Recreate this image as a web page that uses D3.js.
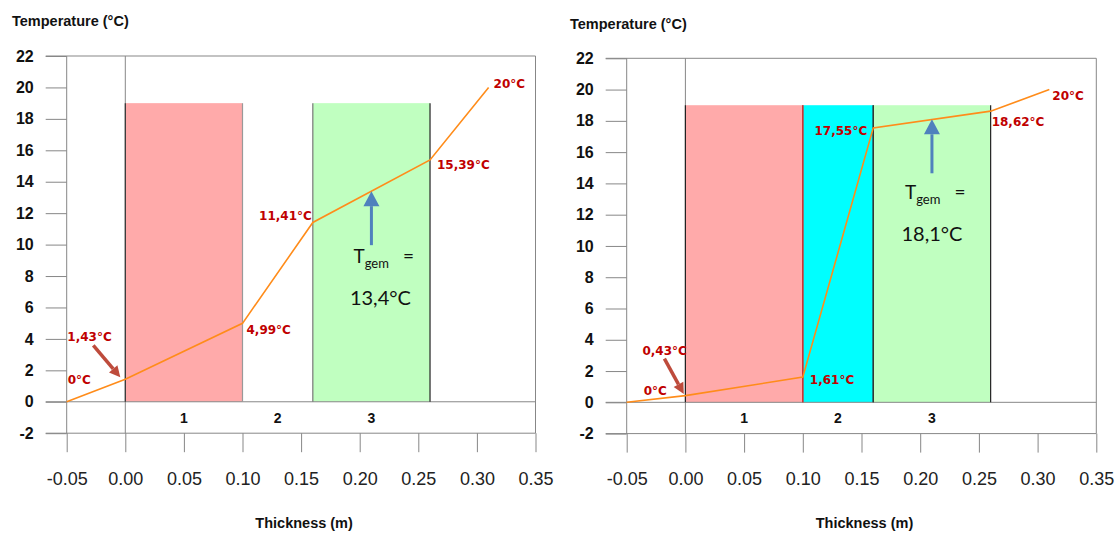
<!DOCTYPE html>
<html>
<head>
<meta charset="utf-8">
<script src="https://cdn.jsdelivr.net/npm/d3@7"></script>
<style>
  body { margin: 0; background: #fff; }
  text { font-family: "Liberation Sans", Arial, sans-serif; }
</style>
</head>
<body>
<div id="chart"></div>
<script>
// data
const xTicks = [-0.05, 0, 0.05, 0.10, 0.15, 0.20, 0.25, 0.30, 0.35];
const yTicks = [-2, 0, 2, 4, 6, 8, 10, 12, 14, 16, 18, 20, 22];
const layerNames = ["1", "2", "3"];
const layerStart = [0, 0.10, 0.16];
const layerEnd = [0.10, 0.16, 0.26];
const layerTop = 19;
const profileX = [-0.05, 0, 0.10, 0.16, 0.26, 0.31];
const leftTemps = [0, 1.43, 4.99, 11.41, 15.39, 20];
const rightTemps = [0, 0.43, 1.61, 17.55, 18.62, 20];
const meanX = 0.21;
const leftMean = 13.4;
const rightMean = 18.1;

// styling / layout per panel
const panels = [
  {
    temps: leftTemps, mean: leftMean,
    fills: ["#ffaaaa", null, "#c0ffc0"],
    edgeL: ["#333", null, "#777"], edgeR: ["#999", null, "#222"],
    left: 66.7, right: 535.5, top: 56, bottom: 433.2,
    titleX: 12, titleY: 21,
    // label offsets (px) from each point
    lab: [[1, -22, "start"], [-58, -43, "start"], [4, 6, "start"], [-1, -7, "end"], [7, 5, "start"], [5, -4, "start"]],
    arrow: [-32, -34, -5, -2],
    tg: { tx: -18, ty: 65, ex: 37, vx: 9, vy: 107 }
  },
  {
    temps: rightTemps, mean: rightMean,
    fills: ["#ffaaaa", "#00ffff", "#c0ffc0"],
    edgeL: ["#222", "#d03030", "#333"], edgeR: ["#d03030", "#333", "#222"],
    left: 626.7, right: 1096.3, top: 58.3, bottom: 433.6,
    titleX: 570, titleY: 24,
    lab: [[17, -12, "start"], [-43, -45, "start"], [7, 3, "start"], [-6, 3, "end"], [1, 11, "start"], [3, 6, "start"]],
    arrow: [-21, -37, -1.6, -1.6],
    tg: { tx: -27, ty: 73, ex: 28, vx: 0, vy: 115 }
  }
];

let svg = d3.select("#chart")
              .append("svg")
                .attr("width", 1117)
                .attr("height", 536)
                .style("background", "#fff");

const gridColor = "#878787";

function fmtTemp(d) {
  if (d % 1 === 0) return d + "°C";
  return d.toFixed(2).replace(".", ",") + "°C";
}

function arrowPath(x1, y1, x2, y2, headLen, headW) {
  // shaft end + triangle head pointing to (x2,y2)
  let a = Math.atan2(y2 - y1, x2 - x1);
  let bx = x2 - headLen * Math.cos(a), by = y2 - headLen * Math.sin(a);
  let px = -Math.sin(a) * headW / 2, py = Math.cos(a) * headW / 2;
  return {
    shaft: [x1, y1, bx, by],
    head: [[x2, y2], [bx + px, by + py], [bx - px, by - py]]
  };
}

function drawPanel(p) {
  let g = svg.append("g");
  let x = d3.scaleLinear().domain([-0.05, 0.35]).range([p.left, p.right]);
  let y = d3.scaleLinear().domain([-2, 22]).range([p.bottom, p.top]);

  // layers
  layerNames.forEach(function(name, i) {
    if (p.fills[i]) {
      g.append("rect")
        .attr("x", x(layerStart[i]))
        .attr("y", y(layerTop))
        .attr("width", x(layerEnd[i]) - x(layerStart[i]))
        .attr("height", y(0) - y(layerTop))
        .attr("fill", p.fills[i]);
    }
  });

  // frame lines
  [22, 0, -2].forEach(function(v) {
    g.append("line")
      .attr("x1", x(-0.05) - 21).attr("x2", x(0.35))
      .attr("y1", y(v)).attr("y2", y(v))
      .attr("stroke", gridColor).attr("stroke-width", 1);
  });
  [-0.05, 0, 0.35].forEach(function(v) {
    g.append("line")
      .attr("x1", x(v)).attr("x2", x(v))
      .attr("y1", y(22)).attr("y2", y(-2))
      .attr("stroke", gridColor).attr("stroke-width", 1);
  });

  // layer edges
  layerNames.forEach(function(name, i) {
    if (p.edgeL[i]) {
      g.append("line")
        .attr("x1", x(layerStart[i])).attr("x2", x(layerStart[i]))
        .attr("y1", y(layerTop)).attr("y2", y(0))
        .attr("stroke", p.edgeL[i]).attr("stroke-width", 1.2);
    }
    if (p.edgeR[i]) {
      g.append("line")
        .attr("x1", x(layerEnd[i])).attr("x2", x(layerEnd[i]))
        .attr("y1", y(layerTop)).attr("y2", y(0))
        .attr("stroke", p.edgeR[i]).attr("stroke-width", 1.2);
    }
  });

  // y axis ticks + labels
  let yAxis = d3.axisLeft(y).tickValues(yTicks).tickSize(21).tickPadding(12)
                .tickFormat(d3.format("d"));
  let ya = g.append("g").attr("transform", "translate(" + x(-0.05) + ",0)").call(yAxis);
  ya.select(".domain").remove();
  ya.selectAll("line").attr("stroke", gridColor);
  ya.selectAll("text")
    .text(function(d) { return d; })
    .style("font-family", "'Liberation Sans', Arial, sans-serif")
    .style("font-size", "16px").style("font-weight", "bold").attr("fill", "#111");

  // x axis ticks + labels
  let xAxis = d3.axisBottom(x).tickValues(xTicks).tickSize(19).tickPadding(20)
                .tickFormat(function(d) { return d.toFixed(2); });
  let xa = g.append("g").attr("transform", "translate(0," + y(-2) + ")").call(xAxis);
  xa.select(".domain").remove();
  xa.selectAll("line").attr("stroke", gridColor);
  xa.selectAll("text")
    .style("font-family", "'Liberation Sans', Arial, sans-serif")
    .style("font-size", "18px").attr("fill", "#222");

  // layer numbers
  layerNames.forEach(function(name, i) {
    g.append("text")
      .attr("x", x((layerStart[i] + layerEnd[i]) / 2))
      .attr("y", (y(0) + y(-2)) / 2)
      .attr("dy", "0.36em")
      .attr("text-anchor", "middle")
      .style("font-size", "14px").style("font-weight", "bold")
      .attr("fill", "#111")
      .text(name);
  });

  // temperature profile
  let pts = profileX.map(function(d, i) { return { x: d, t: p.temps[i] }; });
  let line = d3.line()
                .x(function(d) { return x(d.x); })
                .y(function(d) { return y(d.t); });
  g.append("path")
    .attr("d", line(pts))
    .attr("fill", "none")
    .attr("stroke", "#ff8c1a")
    .attr("stroke-width", 1.6);

  // point labels
  pts.forEach(function(d, i) {
    let o = p.lab[i];
    g.append("text")
      .attr("x", x(d.x) + o[0])
      .attr("y", y(d.t) + o[1])
      .attr("dy", "0.36em")
      .attr("text-anchor", o[2])
      .style("font-family", "'DejaVu Sans', Verdana, sans-serif")
      .style("font-size", "12px").style("font-weight", "bold")
      .attr("fill", "#c00000")
      .text(fmtTemp(d.t));
  });

  // red arrow pointing at the 0.00 point
  let px1 = x(pts[1].x), py1 = y(pts[1].t);
  let ar = arrowPath(px1 + p.arrow[0], py1 + p.arrow[1], px1 + p.arrow[2], py1 + p.arrow[3], 11, 11);
  g.append("line")
    .attr("x1", ar.shaft[0]).attr("y1", ar.shaft[1])
    .attr("x2", ar.shaft[2]).attr("y2", ar.shaft[3])
    .attr("stroke", "#be4b3c").attr("stroke-width", 3.5);
  g.append("polygon")
    .attr("points", ar.head.map(function(q) { return q.join(","); }).join(" "))
    .attr("fill", "#be4b3c");

  // T_gem arrow + text
  let mx = x(meanX), my = y(p.mean);
  let ba = arrowPath(mx, my + 54, mx, my, 15, 16);
  g.append("line")
    .attr("x1", ba.shaft[0]).attr("y1", ba.shaft[1])
    .attr("x2", ba.shaft[2]).attr("y2", ba.shaft[3])
    .attr("stroke", "#4f81bd").attr("stroke-width", 3);
  g.append("polygon")
    .attr("points", ba.head.map(function(q) { return q.join(","); }).join(" "))
    .attr("fill", "#4f81bd");

  let tg = g.append("text")
    .attr("x", mx + p.tg.tx)
    .attr("y", my + p.tg.ty)
    .attr("dy", "0.36em")
    .style("font-family", "Lato, 'Open Sans', sans-serif")
    .style("font-size", "19px")
    .attr("fill", "#111");
  tg.append("tspan").text("T");
  tg.append("tspan").attr("dy", "5").style("font-size", "13px").text("gem");
  g.append("text")
    .attr("x", mx + p.tg.ex)
    .attr("y", my + p.tg.ty)
    .attr("dy", "0.36em")
    .attr("text-anchor", "middle")
    .style("font-family", "Lato, 'Open Sans', sans-serif")
    .style("font-size", "19px")
    .attr("fill", "#111")
    .text("=");
  g.append("text")
    .attr("x", mx + p.tg.vx)
    .attr("y", my + p.tg.vy)
    .attr("dy", "0.36em")
    .attr("text-anchor", "middle")
    .style("font-family", "Lato, 'Open Sans', sans-serif")
    .style("font-size", "20px")
    .attr("fill", "#111")
    .text(String(p.mean).replace(".", ",") + "°C");

  // axis titles
  g.append("text")
    .attr("x", p.titleX).attr("y", p.titleY).attr("dy", "0.36em")
    .style("font-size", "14.5px").style("font-weight", "bold")
    .attr("fill", "#111")
    .text("Temperature (°C)");
  g.append("text")
    .attr("x", (p.left + p.right) / 2 + 3).attr("y", 523).attr("dy", "0.36em")
    .attr("text-anchor", "middle")
    .style("font-size", "14.5px").style("font-weight", "bold")
    .attr("fill", "#111")
    .text("Thickness (m)");
}

panels.forEach(drawPanel);
</script>
</body>
</html>
